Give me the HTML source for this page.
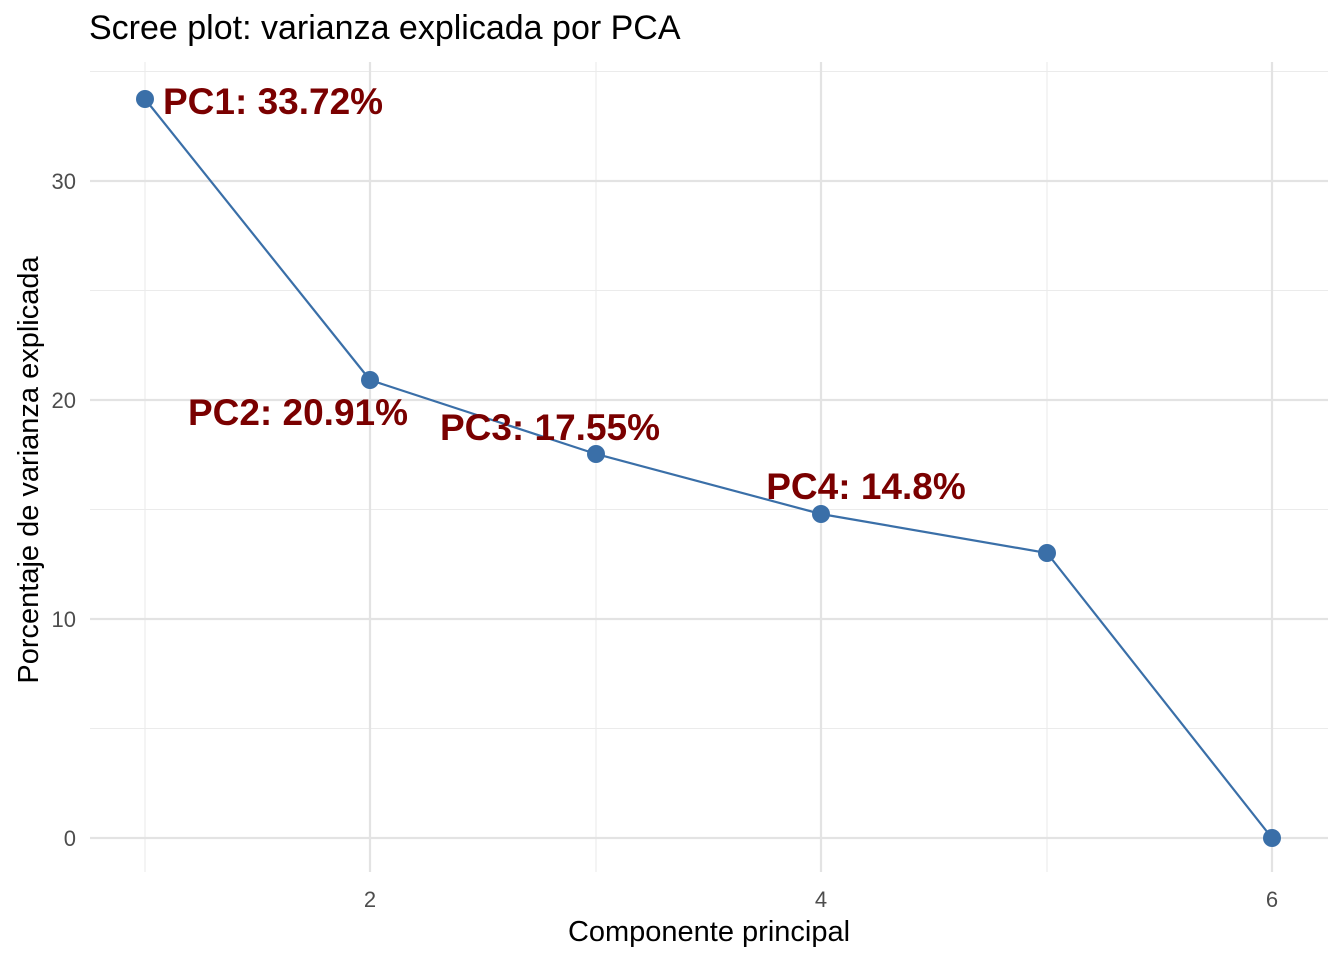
<!DOCTYPE html>
<html><head><meta charset="utf-8"><style>
html,body{margin:0;padding:0;background:#fff;}
svg{display:block;font-family:"Liberation Sans",Arial,sans-serif;}
</style></head><body>
<svg width="1344" height="960" viewBox="0 0 1344 960" xmlns="http://www.w3.org/2000/svg">
<rect width="1344" height="960" fill="#fff"/>
<g stroke="#ebebeb" stroke-width="1.1">
<line x1="90" x2="1328" y1="728.5" y2="728.5"/>
<line x1="90" x2="1328" y1="509.5" y2="509.5"/>
<line x1="90" x2="1328" y1="290.5" y2="290.5"/>
<line x1="90" x2="1328" y1="71.5" y2="71.5"/>
<line x1="145" x2="145" y1="62" y2="872"/>
<line x1="596" x2="596" y1="62" y2="872"/>
<line x1="1047" x2="1047" y1="62" y2="872"/>
</g>
<g stroke="#e3e3e3" stroke-width="2.2">
<line x1="90" x2="1328" y1="838" y2="838"/>
<line x1="90" x2="1328" y1="619" y2="619"/>
<line x1="90" x2="1328" y1="400" y2="400"/>
<line x1="90" x2="1328" y1="181" y2="181"/>
<line x1="370" x2="370" y1="62" y2="872"/>
<line x1="821" x2="821" y1="62" y2="872"/>
<line x1="1272" x2="1272" y1="62" y2="872"/>
</g>
<polyline fill="none" stroke="#3a6fa8" stroke-width="2.2" points="145,99 370,380 596,454 821,514 1047,553 1272,838"/>
<g fill="#3a6fa8">
<circle cx="145" cy="99" r="9"/><circle cx="370" cy="380" r="9"/><circle cx="596" cy="454" r="9"/>
<circle cx="821" cy="514" r="9"/><circle cx="1047" cy="553" r="9"/><circle cx="1272" cy="838" r="9"/>
</g>
<g fill="#7a0000" font-weight="bold" font-size="37">
<text x="163" y="114">PC1: 33.72%</text>
<text x="298" y="425" text-anchor="middle">PC2: 20.91%</text>
<text x="550" y="440" text-anchor="middle">PC3: 17.55%</text>
<text x="866" y="499" text-anchor="middle">PC4: 14.8%</text>
</g>
<g fill="#4d4d4d" font-size="22">
<text x="76" y="846" text-anchor="end">0</text>
<text x="76" y="627" text-anchor="end">10</text>
<text x="76" y="408" text-anchor="end">20</text>
<text x="76" y="189" text-anchor="end">30</text>
<text x="370" y="907" text-anchor="middle">2</text>
<text x="821" y="907" text-anchor="middle">4</text>
<text x="1272" y="907" text-anchor="middle">6</text>
</g>
<text x="709" y="941" text-anchor="middle" font-size="29" fill="#000">Componente principal</text>
<text transform="translate(38,470) rotate(-90)" text-anchor="middle" font-size="29" fill="#000">Porcentaje de varianza explicada</text>
<text x="89" y="39" font-size="34" fill="#000">Scree plot: varianza explicada por PCA</text>
</svg>
</body></html>
